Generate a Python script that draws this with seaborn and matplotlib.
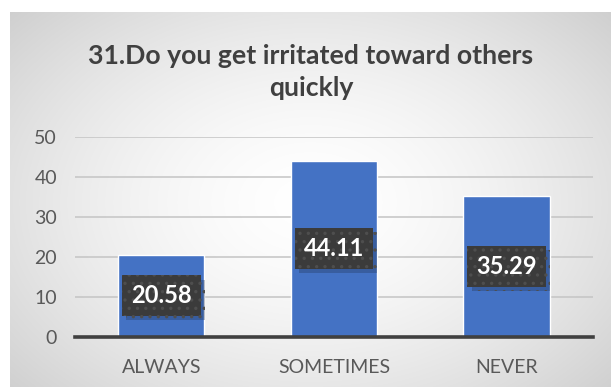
import numpy as np
import pandas as pd
import matplotlib
matplotlib.use("Agg")
import matplotlib.pyplot as plt
import matplotlib.patheffects as pe
import seaborn as sns

categories = ["ALWAYS", "SOMETIMES", "NEVER"]
values = [20.58, 44.11, 35.29]
y_ticks = [0, 10, 20, 30, 40, 50]
title = "31.Do you get irritated toward others\nquickly"

sns.set_theme(style="white")
plt.rcParams["font.family"] = ["Lato", "DejaVu Sans"]
plt.rcParams["hatch.linewidth"] = 1.2

W, H = 611, 387
fig = plt.figure(figsize=(W / 100, H / 100), dpi=100)
fig.patch.set_facecolor("white")

# radial gradient panel behind the chart
bg = fig.add_axes([10 / W, 0, 601 / W, 375 / H])
yy, xx = np.mgrid[0:375, 0:601]
cx, cy = 300, 190
r = np.sqrt(((xx - cx) / 330.0) ** 2 + ((yy - cy) / 230.0) ** 2)
shade = 1.0 - 0.23 * np.clip(r, 0, 1.4) ** 1.6 / 1.4 ** 1.6
img = np.dstack([shade, shade, shade])
bg.imshow(img, aspect="auto", extent=[0, 1, 0, 1], interpolation="bilinear")
bg.axis("off")

ax = fig.add_axes([75 / W, 50 / H, 518 / W, 200 / H])
ax.patch.set_alpha(0)
df = pd.DataFrame({"category": categories, "value": values})
sns.barplot(data=df, x="category", y="value", color="#4472C4", width=0.5,
            saturation=1, ax=ax, zorder=3)

ax.set_xlim(-0.5, 2.5)
ax.set_ylim(0, 50)
ax.set_yticks(y_ticks)
ax.set_yticklabels([str(t) for t in y_ticks])
ax.yaxis.grid(True, color="#c4c4c4", linewidth=1.1, zorder=0)
ax.set_axisbelow(True)
for s in ["left", "right", "top"]:
    ax.spines[s].set_visible(False)
ax.spines["bottom"].set_color("#404040")
ax.spines["bottom"].set_linewidth(2.6)
ax.spines["bottom"].set_zorder(5)
ax.set_xlabel("")
ax.set_ylabel("")
ax.tick_params(axis="y", length=0, pad=13, labelsize=14, labelcolor="#595959")
ax.tick_params(axis="x", which="major", length=0, pad=16, labelsize=14,
               labelcolor="#595959")
ax.set_xticks([-0.5, 0.5, 1.5, 2.5], minor=True)
ax.tick_params(axis="x", which="minor", length=5, width=2.4, color="#404040",
               direction="out")

# value labels in dark dotted boxes with a soft drop shadow
for i, v in enumerate(values):
    t = ax.text(i, v / 2, f"{v:.2f}", ha="center", va="center", fontsize=17,
                fontweight="bold", color="white", zorder=7,
                bbox=dict(boxstyle="square,pad=0.38", facecolor="#3b3b3b",
                          edgecolor="#4e4e4e", linewidth=0, hatch=".."))
    t.get_bbox_patch().set_path_effects([
        pe.SimplePatchShadow(offset=(3, -3), shadow_rgbFace="#1f2d4a", alpha=0.3),
        pe.Normal(),
    ])

fig.text(311 / W, 1 - 72 / H, title, ha="center", va="center", fontsize=19.2,
         fontweight="bold", color="#404040", linespacing=1.35)

fig.savefig("out.png", dpi=100)
